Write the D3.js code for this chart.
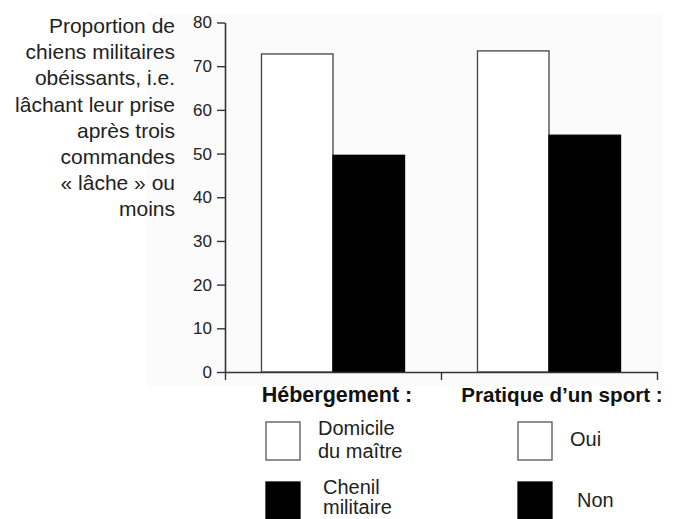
<!DOCTYPE html>
<html><head><meta charset="utf-8">
<script src="https://cdn.jsdelivr.net/npm/d3@7"></script>
<style>
body{margin:0;background:#fff;}
text{font-family:"Liberation Sans",Arial,Helvetica,sans-serif;}
</style></head>
<body>
<svg id="c" width="678" height="519"></svg>
<script>
const groups = ["Hébergement", "Pratique d’un sport"];
const seriesA = [72.8, 73.5];   // white bars: Domicile du maître / Oui
const seriesB = [49.6, 54.2];   // black bars: Chenil militaire / Non
const yTicks = [0, 10, 20, 30, 40, 50, 60, 70, 80];
const yTitle = ["Proportion de", "chiens militaires", "obéissants, i.e.", "lâchant leur prise", "après trois", "commandes", "« lâche » ou", "moins"];
const legendGroups = [
  {title: "Hébergement :", items: [["Domicile", "du maître"], ["Chenil", "militaire"]]},
  {title: "Pratique d’un sport :", items: [["Oui"], ["Non"]]}
];

const svg = d3.select("#c");
const L = 225, R = 657, T = 22.5, B = 372;

svg.append("rect").attr("x", 147).attr("y", 13).attr("width", 515).attr("height", 373).attr("fill", "#fbfbfb");

const y = d3.scaleLinear().domain([0, 80]).range([B, T]);
const x0 = d3.scaleBand().domain(groups).range([L, R]).padding(0);
const x1 = d3.scaleBand().domain(["a", "b"]).range([0, x0.bandwidth()]).paddingInner(0).paddingOuter(0.51);

const data = groups.map((g, i) => ({g, vals: [{k: "a", v: seriesA[i]}, {k: "b", v: seriesB[i]}]}));

const gg = svg.append("g").selectAll("g").data(data).join("g")
  .attr("transform", d => `translate(${x0(d.g)},0)`);
gg.selectAll("rect").data(d => d.vals).join("rect")
  .attr("x", d => x1(d.k)).attr("width", x1.bandwidth())
  .attr("y", d => y(d.v)).attr("height", d => B - y(d.v))
  .attr("fill", d => d.k === "a" ? "#fff" : "#000")
  .attr("stroke", d => d.k === "a" ? "#444" : "#000").attr("stroke-width", 1.3);

// y axis
const ya = svg.append("g").attr("transform", `translate(${L},0)`)
  .call(d3.axisLeft(y).tickValues(yTicks).tickSize(8).tickSizeOuter(0).tickPadding(5));
ya.select(".domain").attr("stroke", "#333").attr("stroke-width", 1.6);
ya.selectAll(".tick line").attr("stroke", "#333").attr("stroke-width", 1.4);
ya.selectAll(".tick text").attr("font-size", 17).attr("fill", "#222")
  .style("font-family", "'Liberation Sans',Arial,sans-serif");

// x axis
const xs = d3.scaleLinear().domain([0, 2]).range([L, R]);
const xa = svg.append("g").attr("transform", `translate(0,${B})`)
  .call(d3.axisBottom(xs).tickValues([0, 1, 2]).tickSize(8).tickSizeOuter(0).tickFormat(""));
xa.select(".domain").attr("stroke", "#333").attr("stroke-width", 1.4);
xa.selectAll(".tick line").attr("stroke", "#333").attr("stroke-width", 1.4);

// y title
const yt = svg.append("text").attr("text-anchor", "end").attr("font-size", 21).attr("fill", "#222");
yTitle.forEach((t, i) => yt.append("tspan").attr("x", 175).attr("y", 33 + i * 26.2).text(t));

// legends
const lgX = [{cx: 337, fs: 21.5, box: 266, tx: [318, 323], ty: [[435, 458], [494, 514]]},
             {cx: 562, fs: 20.6, box: 518, tx: [570, 577], ty: [[446], [507]]}];
legendGroups.forEach((lg, gi) => {
  const p = lgX[gi];
  svg.append("text").attr("x", p.cx).attr("y", 402).attr("text-anchor", "middle")
    .attr("font-size", p.fs).attr("font-weight", "bold").attr("fill", "#111").text(lg.title);
  lg.items.forEach((lines, ii) => {
    const by = 422 + ii * 60;
    svg.append("rect").attr("x", p.box).attr("y", by).attr("width", 34).attr("height", 38)
      .attr("fill", ii === 0 ? "#fff" : "#000").attr("stroke", ii === 0 ? "#555" : "#000").attr("stroke-width", 1.3);
    const t = svg.append("text").attr("font-size", 20).attr("fill", "#222");
    lines.forEach((l, k) => t.append("tspan").attr("x", p.tx[ii]).attr("y", p.ty[ii][k]).text(l));
  });
});
</script>
</body></html>
